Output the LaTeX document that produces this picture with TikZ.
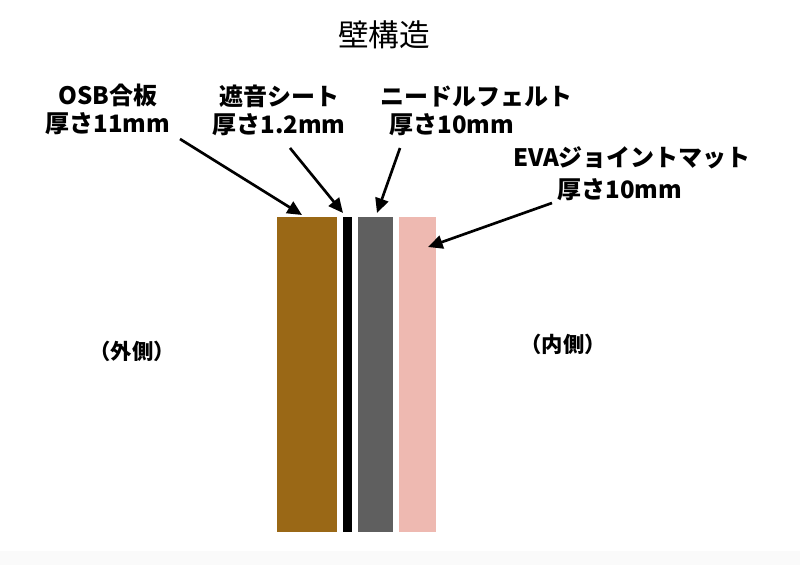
\documentclass[tikz,border=0pt]{standalone}
\usepackage{fontspec}
\usepackage{tikz}
\usetikzlibrary{arrows.meta}
\setmainfont{Noto Sans CJK JP}

\definecolor{osbbrown}{RGB}{154,104,22}
\definecolor{feltgray}{RGB}{95,95,95}
\definecolor{matpink}{RGB}{238,185,177}

\tikzset{
  layer/.style={minimum height=236.25pt, inner sep=0pt, outer sep=0pt},
  partlabel/.style={align=center, font=\fontsize{18}{21}\selectfont\bfseries},
  sidelabel/.style={font=\fontsize{16}{19}\selectfont\bfseries},
  pointer/.style={line width=2pt, -{Triangle[length=11pt,width=10pt]}}
}

\begin{document}
\begin{tikzpicture}[x=0.75pt,y=-0.75pt]
  \useasboundingbox (0,0) rectangle (800,565);
  \fill[black!2] (0,551) rectangle (800,565);

  \node (title) at (384,35) [font=\fontsize{23}{27}\selectfont] {壁構造};

  % wall layers, outside -> inside
  \node (osb)   at (307,374.5)   [layer, fill=osbbrown, minimum width=45pt] {};
  \node (sheet) at (347.5,374.5) [layer, fill=black, minimum width=6.75pt] {};
  \node (felt)  at (375.5,374.5) [layer, fill=feltgray, minimum width=26.25pt] {};
  \node (mat)   at (417.5,374.5) [layer, fill=matpink, minimum width=27.75pt] {};

  \node (osblbl)   at (108,109) [partlabel] {OSB合板\\厚さ11mm};
  \node (sheetlbl) at (279,110) [partlabel] {遮音シート\\厚さ1.2mm};
  \node (feltlbl)  at (476,111) [partlabel] {ニードルフェルト\\厚さ10mm　　};
  \node (matlbl)   at (632,174) [partlabel] {EVAジョイントマット\\[3pt]厚さ10mm　};

  \node (outside) at (132,351) [sidelabel] {（外側）};
  \node (inside)  at (563,344) [sidelabel] {（内側）};

  %\draw[style=help lines] (0,0) grid[step=50] (800,565);
  \draw[pointer] ([shift={(72,30)}]osblbl.center)    -- ([shift={(-5,-2)}]osb.north);
  \draw[pointer] ([shift={(11,38)}]sheetlbl.center)  -- ([shift={(-4.5,-4)}]sheet.north);
  \draw[pointer] ([shift={(-76,37)}]feltlbl.center)  -- ([shift={(1.5,-4)}]felt.north);
  \draw[pointer] ([shift={(-80,29)}]matlbl.center)   -- ([shift={(10.5,30)}]mat.north);
\end{tikzpicture}
\end{document}
